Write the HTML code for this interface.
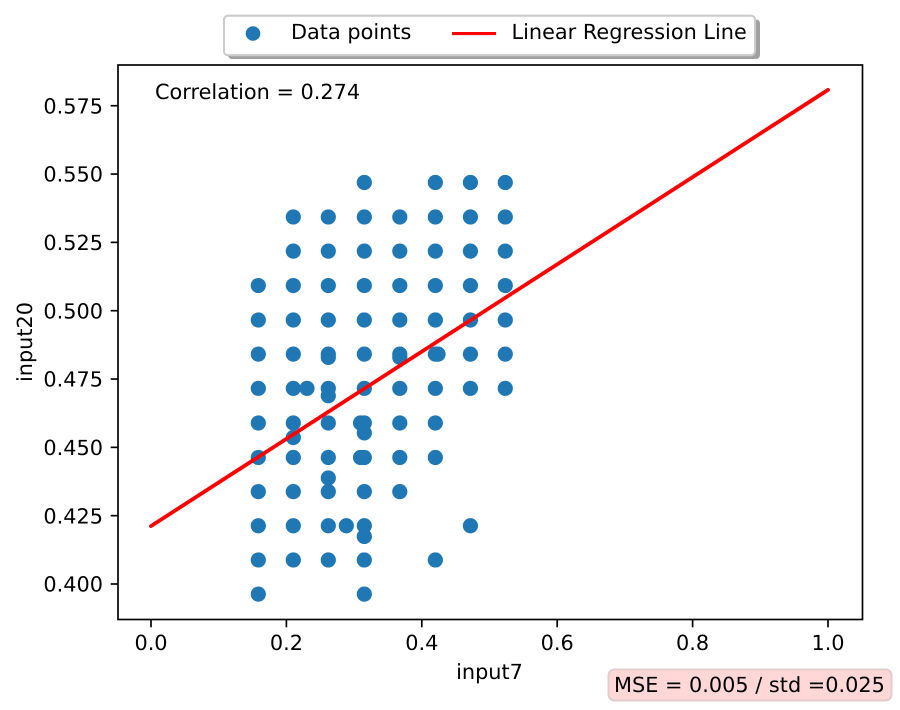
<!DOCTYPE html>
<html lang="en">
<head>
<meta charset="utf-8">
<title>input7 vs input20 regression</title>
<style>
html,body{margin:0;padding:0;background:#fff;width:900px;height:710px;overflow:hidden}
svg{display:block}
text{font-family:"DejaVu Sans","Liberation Sans",sans-serif;font-size:20.83px;fill:#000;text-rendering:geometricPrecision}
</style>
</head>
<body>
<svg id="chart" xmlns="http://www.w3.org/2000/svg" width="900" height="710" viewBox="0 0 900 710">
  <rect x="118" y="65" width="744.5" height="554.5" fill="#fff"/>
  <g id="points"></g>
  <g id="line"></g>
  <rect x="118" y="65" width="744.5" height="554.5" fill="none" stroke="#000" stroke-width="1.67"/>
  <g id="xticks"></g>
  <g id="yticks"></g>
  <text x="489.5" y="679" text-anchor="middle">input7</text>
  <text transform="translate(32,342) rotate(-90)" text-anchor="middle">input20</text>
  <text x="155" y="99">Correlation = 0.274</text>

  <g>
    <rect x="228" y="19.5" width="532" height="39.5" rx="4" fill="#a0a0a0"/>
    <rect x="224" y="15.7" width="531" height="39.5" rx="4" fill="#fff" stroke="#ccc" stroke-width="2.08"/>
    <circle cx="253" cy="33.5" r="7.3" fill="#1f77b4"/>
    <text x="291" y="39">Data points</text>
    <line x1="452" y1="33.5" x2="496" y2="33.5" stroke="#f00" stroke-width="3.125"/>
    <text x="511.5" y="39">Linear Regression Line</text>
  </g>

  <g>
    <rect x="608.5" y="669.5" width="283" height="31" rx="6" fill="#ffd7d7" stroke="#e2cccc" stroke-width="2"/>
    <text x="614" y="692">MSE = 0.005 / std =0.025</text>
  </g>
</svg>
<script>
const xTickValues = [0, 0.2, 0.4, 0.6, 0.8, 1];
const xTickLabels = ["0.0", "0.2", "0.4", "0.6", "0.8", "1.0"];
const yTickValues = [0.4, 0.425, 0.45, 0.475, 0.5, 0.525, 0.55, 0.575];
const yTickLabels = ["0.400", "0.425", "0.450", "0.475", "0.500", "0.525", "0.550", "0.575"];
const input7Values = [
  .1585,.1585,.1585,.1585,.1585,.1585,.1585,.1585,.1585,.1585,
  .2102,.2102,.2102,.2102,.2102,.2102,.2102,.2102,.2102,.2102,.2102,.2102,
  .2304,
  .2619,.2619,.2619,.2619,.2619,.2619,.2619,.2619,.2619,.2619,.2619,.2619,.2619,.2619,
  .2885,
  .3095,.3095,
  .3151,.3151,.3151,.3151,.3151,.3151,.3151,.3151,.3151,.3151,.3151,.3151,.3151,.3151,.3151,
  .3675,.3675,.3675,.3675,.3675,.3675,.3675,.3675,.3675,.3675,
  .42,.42,.42,.42,.42,.42,.42,.42,.42,.42,
  .424,
  .4718,.4718,.4718,.4718,.4718,.4718,.4718,.4718,
  .5233,.5233,.5233,.5233,.5233,.5233,.5233
];
const input20Values = [
  .5092,.4966,.4841,.4716,.4589,.4463,.4338,.4213,.4088,.3963,
  .5343,.5218,.5092,.4966,.4841,.4716,.4589,.4536,.4463,.4338,.4213,.4088,
  .4716,
  .5343,.5218,.5092,.4966,.4841,.4829,.4716,.4689,.4589,.4463,.4388,.4338,.4213,.4088,
  .4213,
  .4463,.4589,
  .5469,.5343,.5218,.5092,.4966,.4841,.4716,.4589,.4553,.4463,.4338,.4213,.4174,.4088,.3963,
  .5343,.5218,.5092,.4966,.4841,.4829,.4716,.4589,.4463,.4338,
  .5469,.5343,.5218,.5092,.4966,.4841,.4716,.4589,.4463,.4088,
  .4841,
  .5469,.5343,.5218,.5092,.4966,.4841,.4716,.4213,
  .5469,.5343,.5218,.5092,.4966,.4841,.4716
];
const lineInput7 = [0, 1];
const lineInput20 = [0.4212, 0.5808];

const NS = 'http://www.w3.org/2000/svg';
function xScale(v) { return 151 + v * 677; }
function yScale(v) { return 584 - (v - 0.4) * 2733; }
function make(tag, attrs, parent) {
  const el = document.createElementNS(NS, tag);
  for (const k in attrs) el.setAttribute(k, attrs[k]);
  parent.appendChild(el);
  return el;
}

const pointsGroup = document.getElementById('points');
input7Values.forEach(function (v, i) {
  const dot = make('circle', { cx: xScale(v), cy: yScale(input20Values[i]), r: 7.6, fill: '#1f77b4' }, pointsGroup);
  
  
});

const lineGroup = document.getElementById('line');
const regression = make('line', {
  x1: xScale(lineInput7[0]), y1: yScale(lineInput20[0]),
  x2: xScale(lineInput7[1]), y2: yScale(lineInput20[1]),
  stroke: '#f00', 'stroke-width': 3.8, 'stroke-linecap': 'round'
}, lineGroup);



const xTickGroup = document.getElementById('xticks');
xTickValues.forEach(function (v, i) {
  const x = xScale(v);
  const tick = make('line', { x1: x, y1: 619.5, x2: x, y2: 627.3, stroke: '#000', 'stroke-width': 1.67 }, xTickGroup);
  
  
  const label = make('text', { x: x, y: 650, 'text-anchor': 'middle' }, xTickGroup);
  label.textContent = xTickLabels[i];
  
  
});

const yTickGroup = document.getElementById('yticks');
yTickValues.forEach(function (v, i) {
  const y = yScale(v);
  const tick = make('line', { x1: 110.7, y1: y, x2: 118, y2: y, stroke: '#000', 'stroke-width': 1.67 }, yTickGroup);
  
  
  const label = make('text', { x: 103, y: y + 7.6, 'text-anchor': 'end' }, yTickGroup);
  label.textContent = yTickLabels[i];
  
  
});
</script>
</body>
</html>
